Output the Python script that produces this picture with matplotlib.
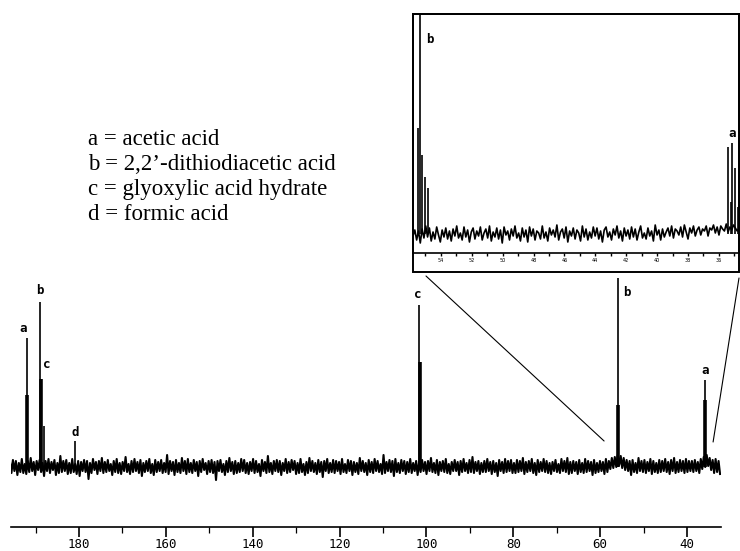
import numpy as np
import matplotlib.pyplot as plt
from matplotlib.patches import Rectangle, ConnectionPatch
from matplotlib.ticker import MultipleLocator, FixedLocator, FormatStrFormatter

W, H = 740, 551

# ---- main spectrum (intensity in arbitrary units, baseline = 0) ----
ppm_start, ppm_end = 195.9, 32.4
main_noise = [
    5, -6, 7, -4, 6, -8, 4, -5, 8, -6, 3, -7, 6, -5, 9, -4, 5, -8, 6, -3,
    7, -5, 4, -9, 6, -4, 8, -6, 5, -3, 7, -8, 4, -6, 11, -5, 6, -4, 7, -7,
    4, -6, 8, -5, 3, -7, 6, -9, 5, -4, 7, -5, 6, -12, 4, -6, 8, -3, 5, -7,
    6, -4, 9, -6, 5, -5, 7, -4, 3, -8, 6, -5, 8, -6, 4, -7, 5, -4, 10, -5,
    3, -7, 6, -5, 8, -4, 5, -6, 7, -9, 4, -5, 6, -4, 8, -6, 3, -8, 7, -5,
    5, -4, 7, -6, 4, -5, 12, -7, 6, -4, 5, -8, 7, -5, 4, -6, 9, -4, 6, -7,
    8, -5, 4, -6, 7, -4, 5, -9, 6, -5, 8, -3, 4, -7, 6, -5, 7, -6, 5, -13,
    6, -4, 7, -5, 3, -8, 6, -5, 9, -4, 5, -7, 6, -6, 4, -5, 8, -4, 7, -6,
    4, -7, 5, -4, 8, -6, 6, -5, 3, -9, 7, -4, 5, -6, 11, -5, 4, -7, 6, -4,
    7, -5, 6, -8, 4, -4, 8, -6, 5, -5, 7, -3, 6, -7, 4, -6, 8, -5, 3, -8,
    5, -6, 9, -4, 6, -5, 4, -7, 7, -5, 5, -10, 6, -4, 8, -6, 4, -5, 7, -6,
    6, -4, 5, -7, 8, -5, 3, -6, 7, -4, 6, -8, 5, -5, 4, -7, 9, -4, 6, -5,
    4, -8, 7, -5, 5, -6, 8, -4, 6, -5, 3, -7, 12, -6, 5, -4, 7, -5, 6, -9,
    8, -5, 4, -6, 7, -4, 6, -7, 5, -5, 8, -6, 4, -4, 6, -8, 5, -5, 7, -4,
    5, -7, 6, -4, 9, -5, 4, -6, 7, -8, 5, -4, 6, -5, 8, -6, 3, -7, 5, -4,
    7, -4, 5, -8, 6, -5, 8, -4, 4, -6, 7, -5, 10, -6, 5, -4, 6, -7, 4, -5,
    6, -5, 8, -4, 5, -7, 6, -5, 4, -9, 7, -4, 5, -6, 8, -5, 6, -4, 7, -6,
    4, -6, 7, -5, 6, -4, 9, -7, 5, -5, 6, -4, 8, -6, 4, -8, 7, -5, 5, -4,
    8, -5, 6, -6, 4, -7, 5, -4, 7, -5, 3, -6, 8, -4, 6, -5, 9, -7, 5, -6,
    6, -4, 5, -7, 7, -5, 4, -6, 8, -5, 6, -4, 5, -8, 7, -6, 4, -5, 6, -4,
    5, -7, 8, -5, 6, -2, 9, -1, 10, 0, 12, 2, 11, -1, 9, -3, 7, -4, 6, -8,
    7, -5, 4, -6, 9, -4, 6, -5, 7, -6, 5, -4, 8, -7, 6, -5, 4, -6, 7, -5,
    6, -4, 8, -5, 5, -7, 7, -4, 9, -6, 5, -5, 7, -4, 6, -6, 8, -5, 6, -4,
    6, -5, 7, -4, 5, -6, 8, -2, 10, 0, 12, 1, 9, -3, 7, -6, 8, -5, 6, -7,
]
peak_ppm = [192.0, 189.0, 188.7, 188.1, 180.9, 101.7, 55.9, 35.9]
peak_height = [129, 165, 88, 41, 26, 162, 189, 87]
# lower, broader part of the multiplets
foot_ppm = [191.95, 188.75, 101.6, 55.85, 35.85]
foot_height = [72, 88, 105, 62, 67]
# which peaks carry a letter
label_peak = [0, 1, 2, 4, 5, 6, 7]
label_text = ['a', 'b', 'c', 'd', 'c', 'b', 'a']

# ---- expansion (inset) ----
inset_start, inset_end = 56.3, 35.2
inset_noise = [
    -2, 4, -6, 3, -9, 5, -4, 8, -3, 6, -7, 2, -5, 7, -1, -8, 4, -3, 6, -5,
    3, -7, 5, -2, 8, -4, 1, -6, 7, -3, 4, -8, 2, 6, -5, 3, -2, 7, -6, 1,
    5, -4, 8, -7, 2, -3, 6, -5, 4, -9, 7, -1, 3, -6, 5, -2, 8, -4, 1, -7,
    6, -3, 4, -8, 7, -2, 5, -6, 3, 1, -5, 8, -4, 2, -7, 6, -1, 4, -3, 9,
    -6, 2, 5, -4, 7, -8, 3, -2, 6, -5, 4, 1, -7, 8, -3, 5, -6, 2, -4, 7,
    -2, 6, -5, 3, -8, 4, 7, -3, 2, -6, 5, -1, 8, -4, 3, -7, 6, -2, 4, -5,
    7, -3, 5, -6, 2, 8, -4, 1, -5, 6, -2, 3, -7, 9, -1, 4, -6, 5, -3, 2,
    6, -2, 8, -4, 5, 3, -1, 7, -3, 9, 2, -5, 6, 1, 8, -2, 4, 7, -1, 5,
    3, 8, -2, 6, 4, 9, 1, 7, -1, 8, 5, 3, 10, 2, 7, 4, 9, 6, 3, 5,
]
inset_peak_ppm = [55.96, 55.85, 55.74, 55.52, 55.31, 35.89, 35.74, 35.67, 35.46, 35.26]
inset_peak_height = [106, 300, 79, 57, 46, 87, 32, 91, 66, 27]

legend_lines = ["a = acetic acid",
                "b = 2,2\u2019-dithiodiacetic acid",
                "c = glyoxylic acid hydrate",
                "d = formic acid"]

fig = plt.figure(figsize=(W / 100, H / 100), dpi=100)

def fx(px):
    return px / W

def fy(py):
    return 1 - py / H

# main axes
ax = fig.add_axes([fx(11), fy(527), fx(710), (527 - 14) / H])
x_main = np.linspace(ppm_start, ppm_end, len(main_noise))
ax.plot(x_main, main_noise, color='black', lw=1.5)
ax.vlines(peak_ppm, 0, peak_height, color='black', lw=1.2)
ax.vlines(foot_ppm, 0, foot_height, color='black', lw=2.6)
ax.set_xlim(195.66, 32.18)
ax.set_ylim(-60, 453)
for s in ['top', 'left', 'right']:
    ax.spines[s].set_visible(False)
ax.spines['bottom'].set_linewidth(1.2)
ax.set_yticks([])
ax.xaxis.set_major_locator(MultipleLocator(20))
ax.xaxis.set_minor_locator(MultipleLocator(10))
ax.tick_params(axis='x', which='major', length=7.2, width=1.2, pad=0.5,
               labelsize=9)
ax.tick_params(axis='x', which='minor', length=4.3, width=0.9)
for lab in ax.get_xticklabels():
    lab.set_family('DejaVu Sans Mono')

offsets = [(-4, 10), (0, 12), (6, 14), (0, 9), (-1, 10), (9, -15), (0, 10)]
for i, t, off in zip(label_peak, label_text, offsets):
    ax.annotate(t, (peak_ppm[i], peak_height[i]), xytext=off,
                textcoords='offset pixels', ha='center', va='center',
                fontsize=9, fontweight='bold', family='DejaVu Sans Mono')

# inset
ins = fig.add_axes([fx(413), fy(253), fx(326), (253 - 14) / H])
x_ins = np.linspace(inset_start, inset_end, len(inset_noise))
ins.plot(x_ins, inset_noise, color='black', lw=1.2)
ins.vlines(inset_peak_ppm, 0, inset_peak_height, color='black', lw=1.2)
ins.set_xlim(inset_start, inset_end)
ins.set_ylim(-19, 220)
ins.set_yticks([])
ins.xaxis.set_major_locator(FixedLocator(np.arange(54.5, 35.9, -2)))
ins.xaxis.set_minor_locator(FixedLocator(np.arange(55.5, 35.0, -1)))
ins.xaxis.set_major_formatter(FormatStrFormatter('%d'))
ins.tick_params(axis='x', which='both', length=2.5, width=1.0, pad=1,
                labelsize=3.5)
for s in ins.spines.values():
    s.set_linewidth(1.2)
ins.annotate('b', (55.85, 220), xytext=(10, -25), textcoords='offset pixels',
             ha='center', va='center', fontsize=9, fontweight='bold',
             family='DejaVu Sans Mono')
ins.annotate('a', (inset_peak_ppm[7], inset_peak_height[7]), xytext=(0, 10),
             textcoords='offset pixels', ha='center', va='center',
             fontsize=9, fontweight='bold', family='DejaVu Sans Mono')

fig.add_artist(Rectangle((fx(413), fy(272)), fx(326), (272 - 14) / H,
                         transform=fig.transFigure, fill=False,
                         edgecolor='black', lw=1.4))

# connector lines from main spectrum to expansion
for xyA, xyB in [((59.1, 26), (fx(426), fy(276))),
                 ((34.0, 25), (fx(739), fy(278)))]:
    fig.add_artist(ConnectionPatch(xyA=xyA, coordsA=ax.transData,
                                   xyB=xyB, coordsB=fig.transFigure,
                                   color='black', lw=0.8))

for i, line in enumerate(legend_lines):
    fig.text(fx(88), fy(145 + 25 * i), line, family='Liberation Serif',
             fontsize=16.5, va='baseline', ha='left')

fig.savefig('out.png', dpi=100)
